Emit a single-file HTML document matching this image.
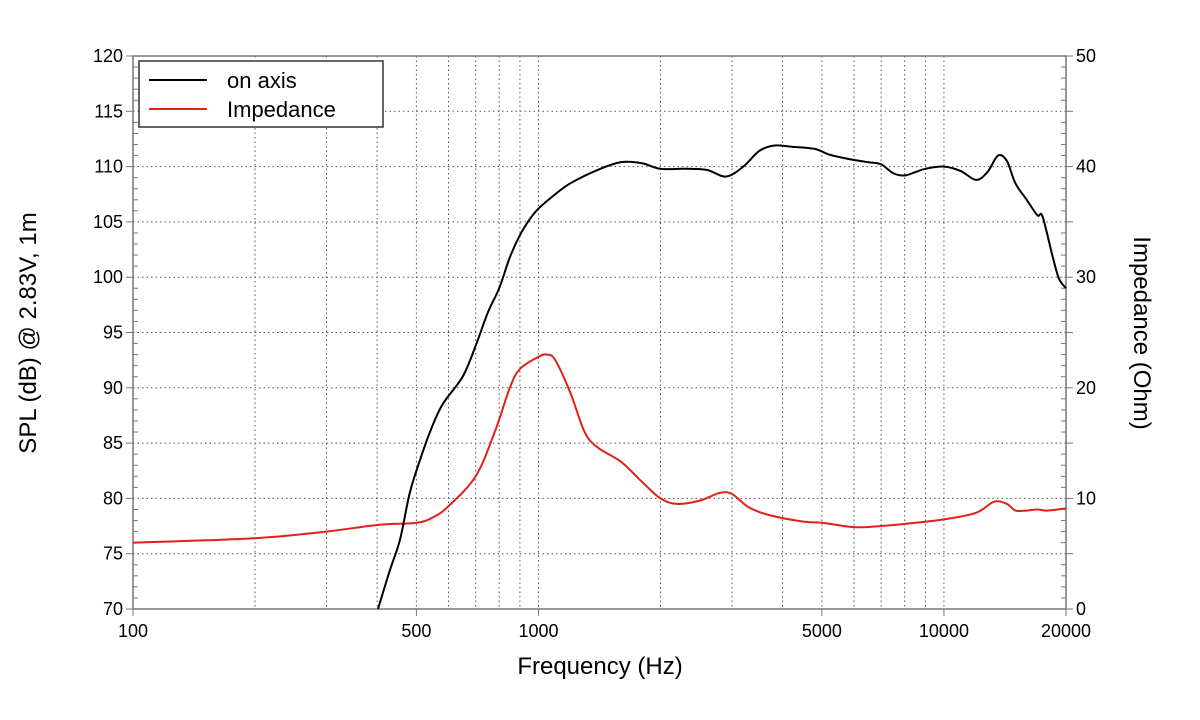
<!DOCTYPE html><html><head><meta charset="utf-8"><style>
body{margin:0;background:#fff}svg{display:block;font-family:"Liberation Sans",sans-serif}
</style></head><body>
<svg id="s" width="1200" height="720" xmlns="http://www.w3.org/2000/svg"></svg>
<script>
const L=133,R=1066,T=56,B=609;
const X=f=>L+(R-L)*Math.log10(f/100)/Math.log10(200);
const Y=d=>T+(B-T)*(120-d)/50;
let h='';
[200,300,400,500,600,700,800,900,1000,2000,3000,4000,5000,6000,7000,8000,9000,10000].forEach(f=>{h+=`<line x1="${X(f)}" x2="${X(f)}" y1="${T}" y2="${B}" stroke="#555" stroke-width="1" stroke-dasharray="1.5,3"/>`});
for(let d=75;d<120;d+=5)h+=`<line x1="${L}" x2="${R}" y1="${Y(d)}" y2="${Y(d)}" stroke="#555" stroke-dasharray="1.5,3"/>`;
h+=`<rect x="${L}" y="${T}" width="${R-L}" height="${B-T}" fill="none" stroke="#777" stroke-width="1.5"/>`;
for(let d=70;d<=120;d++){const y=Y(d),m=d%5==0;h+=`<line x1="${L-(m?7:0)}" x2="${L+(m?0:5)}" y1="${y}" y2="${y}" stroke="#777"/><line x1="${R-(m?0:5)}" x2="${R+(m?7:0)}" y1="${y}" y2="${y}" stroke="#777"/>`;
 if(m){h+=`<text x="${L-10}" y="${y+6}" font-size="18" text-anchor="end">${d}</text>`;if(d%10==0)h+=`<text x="${R+10}" y="${y+6}" font-size="18">${d-70}</text>`}}
[[100,'100'],[500,'500'],[1000,'1000'],[5000,'5000'],[10000,'10000'],[20000,'20000']].forEach(([f,t])=>{h+=`<line x1="${X(f)}" x2="${X(f)}" y1="${B}" y2="${B+7}" stroke="#777"/><text x="${X(f)}" y="${B+28}" font-size="18" text-anchor="middle">${t}</text>`});
h+=`<text x="600" y="674" font-size="24" text-anchor="middle">Frequency (Hz)</text>`;
h+=`<text transform="translate(36,333) rotate(-90)" font-size="24" text-anchor="middle">SPL (dB) @ 2.83V, 1m</text>`;
h+=`<text transform="translate(1134,333) rotate(90)" font-size="24" text-anchor="middle">Impedance (Ohm)</text>`;
function path(pts,c){const p=pts.map(([f,d])=>[X(f),Y(d)]);let s=`M${p[0][0]},${p[0][1]}`;
for(let i=0;i<p.length-1;i++){const p0=p[Math.max(0,i-1)],p1=p[i],p2=p[i+1],p3=p[Math.min(p.length-1,i+2)];
s+=`C${p1[0]+(p2[0]-p0[0])/6},${p1[1]+(p2[1]-p0[1])/6} ${p2[0]-(p3[0]-p1[0])/6},${p2[1]-(p3[1]-p1[1])/6} ${p2[0]},${p2[1]}`}
return `<path d="${s}" fill="none" stroke="${c}" stroke-width="2"/>`}
const spl=[[402,70],[430,73.5],[455,76.2],[480,80.3],[500,82.5],[540,86],[580,88.5],[650,91],[700,93.8],[750,96.8],[800,99],[850,101.8],[900,103.8],[950,105.2],[1000,106.2],[1100,107.5],[1200,108.5],[1400,109.7],[1600,110.4],[1800,110.3],[2000,109.8],[2300,109.8],[2600,109.7],[2900,109.1],[3200,110],[3500,111.4],[3800,111.9],[4200,111.8],[4800,111.6],[5200,111.1],[5800,110.7],[6500,110.4],[7000,110.2],[7500,109.4],[8000,109.2],[8500,109.5],[9000,109.8],[10000,110],[11000,109.6],[12000,108.8],[12800,109.5],[13600,111],[14300,110.5],[15000,108.5],[16000,107],[17000,105.6],[17500,105.5],[18500,102],[19200,99.9],[20000,99]];
const imp=[[100,6],[200,6.4],[300,7],[400,7.6],[500,7.8],[550,8.3],[600,9.3],[700,12],[780,16],[850,20],[900,21.7],[1000,22.8],[1050,23],[1100,22.5],[1200,19.5],[1300,16],[1400,14.6],[1600,13.3],[1800,11.5],[2000,10],[2200,9.5],[2500,9.8],[2800,10.5],[3000,10.4],[3300,9.2],[3700,8.5],[4500,7.9],[5000,7.8],[6000,7.4],[7000,7.5],[8500,7.8],[10000,8.1],[12000,8.7],[13300,9.7],[14300,9.5],[15000,8.9],[16000,8.9],[17000,9.0],[18000,8.9],[20000,9.1]].map(([f,o])=>[f,o+70]);
h+=path(imp,'#e0201a')+path(spl,'#000');
h+=`<rect x="139" y="61" width="244" height="66" fill="#fff" stroke="#333" stroke-width="1.5"/>
<line x1="149" x2="207" y1="80" y2="80" stroke="#000" stroke-width="2"/><text x="227" y="88" font-size="22">on axis</text>
<line x1="149" x2="207" y1="109" y2="109" stroke="#e0201a" stroke-width="2"/><text x="227" y="117" font-size="22">Impedance</text>`;
document.getElementById('s').innerHTML=h;
</script></body></html>
